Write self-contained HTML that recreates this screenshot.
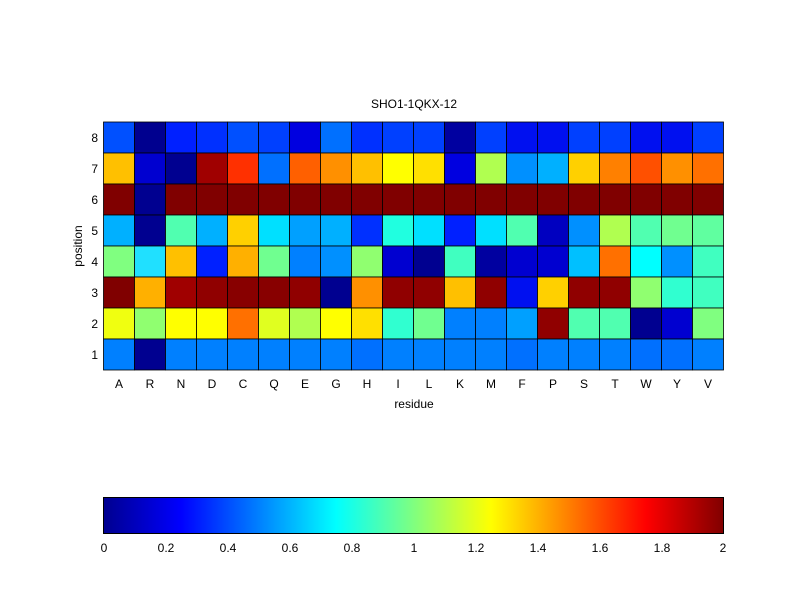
<!DOCTYPE html>
<html><head><meta charset="utf-8"><style>
html,body{margin:0;padding:0;background:#fff;}
svg{display:block;font-family:"Liberation Sans",Arial,sans-serif;}
</style></head><body>
<svg id="s" width="800" height="600" viewBox="0 0 800 600" xmlns="http://www.w3.org/2000/svg">
<defs>
<linearGradient id="jet" x1="0" x2="1" y1="0" y2="0">
<stop offset="0" stop-color="#00008f"/>
<stop offset="0.125" stop-color="#0000ff"/>
<stop offset="0.375" stop-color="#00ffff"/>
<stop offset="0.625" stop-color="#ffff00"/>
<stop offset="0.875" stop-color="#ff0000"/>
<stop offset="1" stop-color="#800000"/>
</linearGradient>
</defs>
<rect width="800" height="600" fill="#fff"/>
<g id="cells"></g>
<text x="414" y="108" font-size="12" text-anchor="middle">SHO1-1QKX-12</text>
<g font-size="12" text-anchor="end">
<text x="98" y="142">8</text><text x="98" y="173">7</text><text x="98" y="204">6</text><text x="98" y="235">5</text>
<text x="98" y="266">4</text><text x="98" y="297">3</text><text x="98" y="328">2</text><text x="98" y="359">1</text>
</g>
<g id="xl" font-size="12" text-anchor="middle"></g>
<text x="414" y="408" font-size="12" text-anchor="middle">residue</text>
<text x="82" y="246" font-size="12" text-anchor="middle" transform="rotate(-90 82 246)">position</text>
<rect x="103.5" y="497.5" width="620" height="36" fill="url(#jet)" stroke="#000" stroke-width="1"/>
<g font-size="12" text-anchor="middle">
<text x="104" y="552">0</text><text x="166" y="552">0.2</text><text x="228" y="552">0.4</text><text x="290" y="552">0.6</text>
<text x="352" y="552">0.8</text><text x="414" y="552">1</text><text x="476" y="552">1.2</text><text x="538" y="552">1.4</text>
<text x="600" y="552">1.6</text><text x="662" y="552">1.8</text><text x="723" y="552">2</text>
</g>
</svg>
<script>
var rows=[
["#0050ff","#00008f","#0020ff","#0030ff","#0050ff","#0040ff","#0000e0","#0070ff","#0030ff","#0040ff","#0040ff","#0000a0","#0040ff","#0010f0","#0010f0","#0040ff","#0040ff","#0010f0","#0010f0","#0040ff"],
["#ffc000","#0000d0","#000090","#a00000","#ff3000","#0070ff","#ff6000","#ff9000","#ffc000","#ffff00","#ffe000","#0000e0","#b0ff50","#0090ff","#00b0ff","#ffd000","#ff8000","#ff5000","#ff9000","#ff7000"],
["#800000","#000090","#800000","#800000","#800000","#800000","#800000","#800000","#800000","#800000","#800000","#800000","#800000","#800000","#800000","#800000","#800000","#800000","#800000","#800000"],
["#00b0ff","#000090","#50ffb0","#00b0ff","#ffd000","#00e0ff","#00a0ff","#00b0ff","#0030ff","#20ffe0","#00e0ff","#0020ff","#00e0ff","#50ffb0","#0000c0","#0090ff","#b0ff50","#50ffb0","#70ff90","#60ffa0"],
["#80ff80","#20e0ff","#ffc000","#0020ff","#ffb000","#70ff90","#0080ff","#0090ff","#90ff70","#0000d0","#000090","#40ffc0","#0000a0","#0000d0","#0000d0","#00c0ff","#ff7000","#00ffff","#0090ff","#40ffc0"],
["#800000","#ffb000","#a00000","#900000","#880000","#880000","#900000","#000090","#ff9000","#900000","#900000","#ffc000","#900000","#0010f0","#ffd000","#900000","#900000","#90ff70","#30ffd0","#40ffc0"],
["#f0ff10","#90ff70","#ffff00","#ffff00","#ff7000","#e0ff20","#b0ff50","#ffff00","#ffe000","#30ffd0","#70ff90","#0080ff","#0080ff","#00a0ff","#900000","#50ffb0","#50ffb0","#000090","#0000d0","#80ff80"],
["#0080ff","#000090","#0080ff","#0080ff","#0080ff","#0080ff","#0080ff","#0080ff","#0070ff","#0080ff","#0080ff","#0080ff","#0080ff","#0070ff","#0080ff","#0080ff","#0080ff","#0070ff","#0070ff","#0080ff"]];
var labs="A R N D C Q E G H I L K M F P S T W Y V".split(" ");
var ns="http://www.w3.org/2000/svg",g=document.getElementById("cells"),xl=document.getElementById("xl");
var x0=103.5,y0=122,cw=31,ch=31;
for(var r=0;r<8;r++)for(var c=0;c<20;c++){var e=document.createElementNS(ns,"rect");
e.setAttribute("x",x0+c*cw);e.setAttribute("y",y0+r*ch);e.setAttribute("width",cw);e.setAttribute("height",ch);
e.setAttribute("fill",rows[r][c]);e.setAttribute("stroke","#000");e.setAttribute("stroke-width","0.8");g.appendChild(e);}
for(var c=0;c<20;c++){var t=document.createElementNS(ns,"text");t.setAttribute("x",x0+c*cw+cw/2);t.setAttribute("y",388);t.textContent=labs[c];xl.appendChild(t);}
</script>
</body></html>
